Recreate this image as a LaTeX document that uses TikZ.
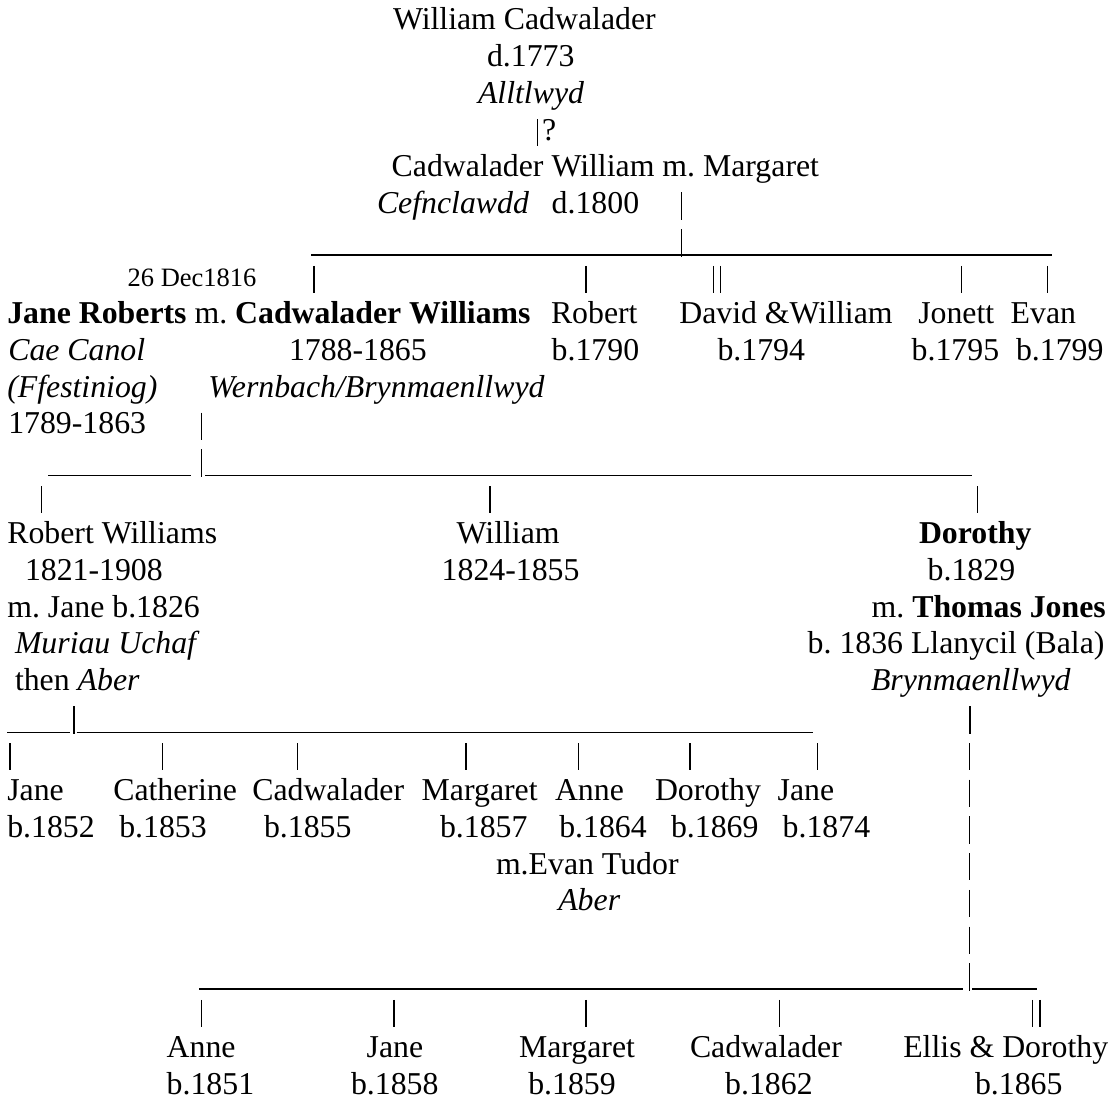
\documentclass[tikz,border=0pt]{standalone}
\usepackage{fontspec}
\setmainfont{Liberation Serif}
\frenchspacing
\newcommand{\FT}[5]{\node[txt,#4] (#1) at (#2,{30+36.7*#3}) {#5};}
\newcommand{\VP}[3]{\draw[conn] (#2,{30+36.7*#3-21}) coordinate (#1-t) -- (#2,{30+36.7*#3+6.3}) coordinate (#1-b);}
\newcommand{\HL}[4]{\draw[conn] (#2,{34.8+36.7*#4}) coordinate (#1-l) -- (#3,{34.8+36.7*#4}) coordinate (#1-r);}
\begin{document}
\frenchspacing
\begin{tikzpicture}[x=1pt,y=-1pt,
  txt/.style={anchor=base west,inner sep=0pt,outer sep=0pt,font=\fontsize{31.8}{36.7}\selectfont\frenchspacing},
  small/.style={font=\fontsize{26.5}{30}\selectfont},
  conn/.style={line width=1.2pt,black}]
\fill[white] (0,0) rectangle (1111,1102);
\useasboundingbox (0,0) rectangle (1111,1102);
% generation 1
\FT{wc}{393}{0}{}{William Cadwalader}
\FT{wcd}{487}{1}{}{d.1773}
\FT{wcp}{478}{2}{}{\textit{Alltlwyd}}
\VP{p3}{537.7}{3}
\FT{q}{542}{3}{}{?}
% generation 2
\FT{cw}{391.7}{4}{}{Cadwalader William m. Margaret}
\FT{cwp}{377}{5}{}{\textit{Cefnclawdd}}
\FT{cwd}{551.7}{5}{}{d.1800}
\VP{p5}{681.7}{5}
\HL{h6}{311}{1052}{6}
\VP{p6}{681.7}{6}
\FT{mdate}{127.7}{7}{small}{26 Dec1816}
\VP{p7a}{314}{7}
\VP{p7b}{586}{7}
\VP{p7c}{713.3}{7}
\VP{p7d}{720.7}{7}
\VP{p7e}{961.7}{7}
\VP{p7f}{1047.7}{7}
% generation 3
\FT{jr}{7.3}{8}{}{\textbf{Jane Roberts} m. \textbf{Cadwalader Williams}}
\FT{rob}{551}{8}{}{Robert}
\FT{dw}{679.3}{8}{}{David \&William}
\FT{jon}{918.3}{8}{}{Jonett}
\FT{ev}{1010.7}{8}{}{Evan}
\FT{jrp}{8.3}{9}{}{\textit{Cae Canol}}
\FT{cwy}{289}{9}{}{1788-1865}
\FT{robb}{551.7}{9}{}{b.1790}
\FT{dwb}{717.5}{9}{}{b.1794}
\FT{jonb}{911.7}{9}{}{b.1795}
\FT{evb}{1016}{9}{}{b.1799}
\FT{jrp2}{7.3}{10}{}{\textit{(Ffestiniog)}}
\FT{cwp2}{208.3}{10}{}{\textit{Wernbach/Brynmaenllwyd}}
\FT{jry}{8.3}{11}{}{1789-1863}
\VP{p11}{201.7}{11}
\HL{h12a}{48.3}{190.7}{12}
\HL{h12b}{205}{972.3}{12}
\VP{p12}{201.7}{12}
\VP{p13a}{41.7}{13}
\VP{p13b}{490}{13}
\VP{p13c}{977.7}{13}
% generation 4
\FT{rw}{7.3}{14}{}{Robert Williams}
\FT{wi}{456.7}{14}{}{William}
\FT{do}{919}{14}{}{\textbf{Dorothy}}
\FT{rwy}{25}{15}{}{1821-1908}
\FT{wiy}{441.7}{15}{}{1824-1855}
\FT{dob}{927.7}{15}{}{b.1829}
\FT{rwm}{7.3}{16}{}{m. Jane b.1826}
\FT{tj}{871.7}{16}{}{m. \textbf{Thomas Jones}}
\FT{rwp}{15}{17}{}{\textit{Muriau Uchaf}}
\FT{tjb}{807.7}{17}{}{b. 1836 Llanycil (Bala)}
\FT{rwp2}{15}{18}{}{then \textit{Aber}}
\FT{tjp}{871}{18}{}{\textit{Brynmaenllwyd}}
\HL{h19a}{7.3}{70}{19}
\HL{h19b}{76.7}{812.7}{19}
\VP{p19}{74}{19}
\VP{p19r}{970}{19}
\VP{p20a}{10}{20}
\VP{p20b}{162.3}{20}
\VP{p20c}{297.7}{20}
\VP{p20d}{466}{20}
\VP{p20e}{578.3}{20}
\VP{p20f}{690}{20}
\VP{p20g}{817.7}{20}
\VP{p20r}{969.3}{20}
% generation 5 (Robert Williams)
\FT{c1}{7.3}{21}{}{Jane}
\FT{c2}{113.3}{21}{}{Catherine}
\FT{c3}{252.3}{21}{}{Cadwalader}
\FT{c4}{421.7}{21}{}{Margaret}
\FT{c5}{555}{21}{}{Anne}
\FT{c6}{655}{21}{}{Dorothy}
\FT{c7}{777.7}{21}{}{Jane}
\FT{c1b}{7.3}{22}{}{b.1852}
\FT{c2b}{119.3}{22}{}{b.1853}
\FT{c3b}{264}{22}{}{b.1855}
\FT{c4b}{440}{22}{}{b.1857}
\FT{c5b}{559.3}{22}{}{b.1864}
\FT{c6b}{671}{22}{}{b.1869}
\FT{c7b}{782.7}{22}{}{b.1874}
\FT{c5m}{496}{23}{}{m.Evan Tudor}
\FT{c5p}{558.3}{24}{}{\textit{Aber}}
\VP{p21r}{969.3}{21}
\VP{p22r}{969.3}{22}
\VP{p23r}{969.3}{23}
\VP{p24r}{969.3}{24}
\VP{p25r}{969.3}{25}
\HL{h26a}{199}{962.7}{26}
\HL{h26b}{972.3}{1036.7}{26}
\VP{p26r}{969.3}{26}
\VP{p27a}{201.7}{27}
\VP{p27b}{394}{27}
\VP{p27c}{586}{27}
\VP{p27d}{779.3}{27}
\VP{p27e}{1032.7}{27}
\VP{p27f}{1040}{27}
% generation 5 (Dorothy & Thomas Jones)
\FT{d1}{166.7}{28}{}{Anne}
\FT{d2}{366.7}{28}{}{Jane}
\FT{d3}{519}{28}{}{Margaret}
\FT{d4}{690}{28}{}{Cadwalader}
\FT{d5}{903.3}{28}{}{Ellis \& Dorothy}
\FT{d1b}{166.7}{29}{}{b.1851}
\FT{d2b}{351}{29}{}{b.1858}
\FT{d3b}{528.3}{29}{}{b.1859}
\FT{d4b}{725.2}{29}{}{b.1862}
\FT{d5b}{975}{29}{}{b.1865}
\end{tikzpicture}
\end{document}
